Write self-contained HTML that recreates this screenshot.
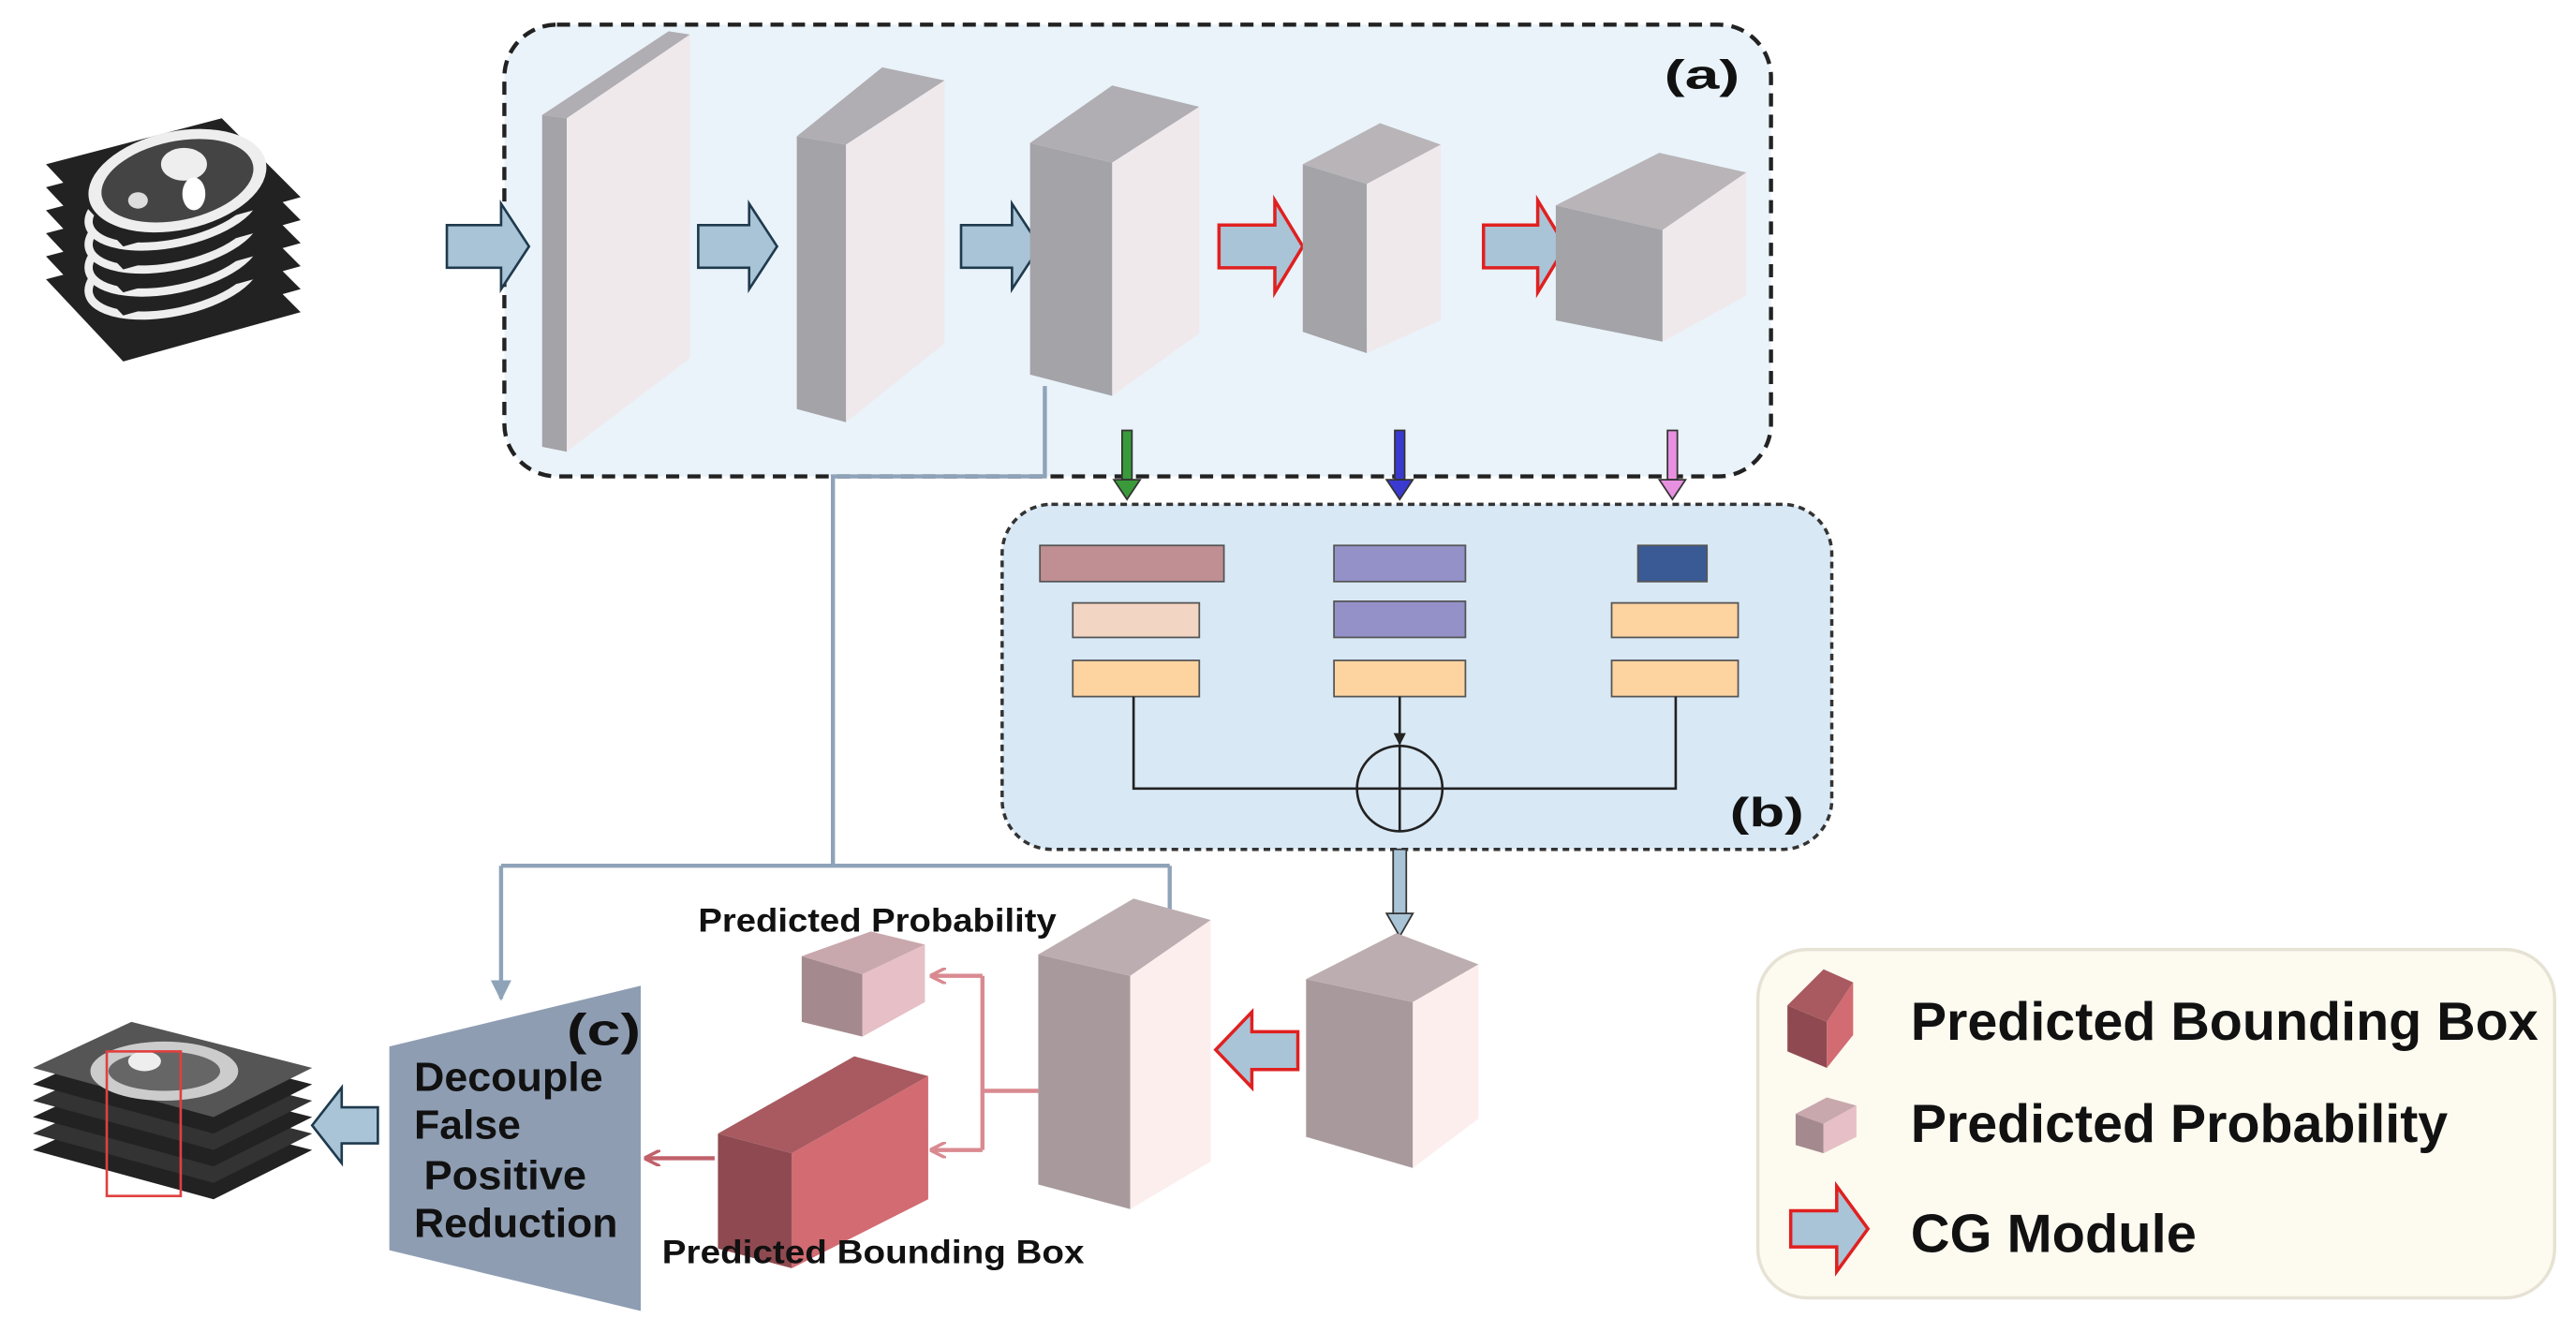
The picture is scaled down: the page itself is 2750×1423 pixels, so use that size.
<!DOCTYPE html>
<html><head><meta charset="utf-8"><style>
html,body{margin:0;padding:0;background:#fff;}
svg{display:block;}
text{font-family:"Liberation Sans",Arial,sans-serif;font-weight:bold;fill:#111;}
</style></head><body>
<svg width="2750" height="1423" viewBox="0 0 1568 811.4" preserveAspectRatio="none" xmlns="http://www.w3.org/2000/svg">
<defs>
<marker id="ag" viewBox="0 0 10 10" refX="9" refY="5" markerWidth="5" markerHeight="5" orient="auto"><path d="M0,0L10,5L0,10z" fill="#8fa3b8"/></marker>
<marker id="ak" viewBox="0 0 10 10" refX="9" refY="5" markerWidth="5" markerHeight="5" orient="auto"><path d="M0,0L10,5L0,10z" fill="#222"/></marker>
<marker id="ap" viewBox="0 0 10 10" refX="9" refY="5" markerWidth="4" markerHeight="4" orient="auto"><path d="M0,0L10,5L0,10" fill="none" stroke="#d98a90" stroke-width="2"/></marker>
<marker id="ar" viewBox="0 0 10 10" refX="9" refY="5" markerWidth="4" markerHeight="4" orient="auto"><path d="M0,0L10,5L0,10" fill="none" stroke="#c0606a" stroke-width="2"/></marker>
</defs>

<rect x="307" y="15" width="771" height="275" rx="32" fill="#eaf3fa" stroke="#222" stroke-width="2.5" stroke-dasharray="8,5"/>
<text x="1013" y="54" font-size="25" textLength="46" lengthAdjust="spacingAndGlyphs">(a)</text>

<g>
<polygon points="28,170 135,142 183,190 75,220" fill="#222"/>
<polygon points="28,156 135,128 183,176 75,206" fill="#222"/><ellipse cx="105" cy="168" rx="52" ry="22" fill="none" stroke="#eee" stroke-width="5" transform="rotate(-12 105 168)"/>
<polygon points="28,142 135,114 183,162 75,192" fill="#222"/><ellipse cx="105" cy="154" rx="52" ry="22" fill="none" stroke="#eee" stroke-width="5" transform="rotate(-12 105 154)"/>
<polygon points="28,128 135,100 183,148 75,178" fill="#222"/><ellipse cx="105" cy="140" rx="52" ry="22" fill="none" stroke="#eee" stroke-width="5" transform="rotate(-12 105 140)"/>
<polygon points="28,114 135,86 183,134 75,164" fill="#222"/><ellipse cx="105" cy="126" rx="52" ry="22" fill="none" stroke="#eee" stroke-width="5" transform="rotate(-12 105 126)"/>
<polygon points="28,100 135,72 183,120 75,150" fill="#222"/>
<ellipse cx="108" cy="110" rx="55" ry="30" fill="#eee" transform="rotate(-12 108 110)"/>
<ellipse cx="108" cy="110" rx="47" ry="24" fill="#444" transform="rotate(-12 108 110)"/>
<ellipse cx="112" cy="100" rx="14" ry="10" fill="#eee"/>
<ellipse cx="118" cy="118" rx="7" ry="10" fill="#fff"/>
<ellipse cx="84" cy="122" rx="6" ry="5" fill="#ddd"/>
</g>

<g stroke="#1f3a4d" stroke-width="1.5" fill="#a9c4d6">
<path d="M272,137H305V124L322,150L305,176V163H272Z"/>
<path d="M425,137H456V124L473,150L456,176V163H425Z"/>
<path d="M585,137H616V124L633,150L616,176V163H585Z"/>
</g>
<g stroke="#e02020" stroke-width="2" fill="#a9c4d6">
<path d="M742,137H776V122L793,150L776,178V163H742Z"/>
<path d="M903,137H936V122L953,150L936,178V163H903Z"/>
</g>

<g>
<polygon points="330,70 345,72 345,275 330,272" fill="#a3a3a8"/>
<polygon points="330,70 407,19 420,21 345,72" fill="#b0aeb3"/>
<polygon points="345,72 420,21 420,218 345,275" fill="#efe9ec"/>

<polygon points="485,83 515,88 515,257 485,249" fill="#a3a3a8"/>
<polygon points="485,83 537,41 575,49 515,88" fill="#b0aeb3"/>
<polygon points="515,88 575,49 575,209 515,257" fill="#efe9ec"/>

<polygon points="627,87 677,99 677,241 627,228" fill="#a3a3a8"/>
<polygon points="627,87 677,52 730,65 677,99" fill="#b0aeb3"/>
<polygon points="677,99 730,65 730,203 677,241" fill="#efe9ec"/>

<polygon points="793,100 832,112 832,215 793,202" fill="#a3a3a8"/>
<polygon points="793,100 840,75 877,88 832,112" fill="#b8b4b8"/>
<polygon points="832,112 877,88 877,195 832,215" fill="#efe9ec"/>

<polygon points="947,125 1012,140 1012,208 947,195" fill="#a3a3a8"/>
<polygon points="947,125 1010,93 1063,105 1012,140" fill="#b8b4b8"/>
<polygon points="1012,140 1063,105 1063,180 1012,208" fill="#efe9ec"/>
</g>

<g stroke="#8fa3b8" stroke-width="2.5" fill="none">
<path d="M636,235V290H507V527"/>
<path d="M305,527H712"/>
<path d="M305,527V608" marker-end="url(#ag)"/>
<path d="M712,527V568" marker-end="url(#ag)"/>
</g>

<g stroke="#333" stroke-width="1">
<rect x="683" y="262" width="6" height="30" fill="#3a9a3a"/><path d="M678,292H694L686,304Z" fill="#3a9a3a"/>
<rect x="849" y="262" width="6" height="30" fill="#3a3ad0"/><path d="M844,292H860L852,304Z" fill="#3a3ad0"/>
<rect x="1015" y="262" width="6" height="30" fill="#e890e0"/><path d="M1010,292H1026L1018,304Z" fill="#e890e0"/>
</g>

<rect x="610" y="307" width="505" height="210" rx="30" fill="#d8e8f5" stroke="#333" stroke-width="2" stroke-dasharray="4,3"/>
<text x="1053" y="503" font-size="25" textLength="45" lengthAdjust="spacingAndGlyphs">(b)</text>
<g stroke="#555" stroke-width="1">
<rect x="633" y="332" width="112" height="22" fill="#bf8f94"/>
<rect x="653" y="367" width="77" height="21" fill="#f2d5c2"/>
<rect x="653" y="402" width="77" height="22" fill="#fdd3a0"/>
<rect x="812" y="332" width="80" height="22" fill="#9391c8"/>
<rect x="812" y="366" width="80" height="22" fill="#9391c8"/>
<rect x="812" y="402" width="80" height="22" fill="#fdd3a0"/>
<rect x="997" y="332" width="42" height="22" fill="#3a5a95"/>
<rect x="981" y="367" width="77" height="21" fill="#fdd3a0"/>
<rect x="981" y="402" width="77" height="22" fill="#fdd3a0"/>
</g>
<g stroke="#222" stroke-width="1.5" fill="none">
<path d="M690,424V480H826"/>
<path d="M1020,424V480H878"/>
<path d="M852,424V453" marker-end="url(#ak)"/>
<circle cx="852" cy="480" r="26" fill="#d8e8f5"/>
<path d="M826,480H878M852,454V506"/>
</g>

<rect x="848" y="517" width="8" height="42" fill="#a9c4d6" stroke="#333" stroke-width="1"/>
<path d="M844,556H860L852,570Z" fill="#a9c4d6" stroke="#333" stroke-width="1"/>

<polygon points="795,596 860,610 860,711 795,692" fill="#a89a9c"/>
<polygon points="795,596 850,568 900,587 860,610" fill="#bcaeb0"/>
<polygon points="860,610 900,587 900,681 860,711" fill="#fdeeee"/>
<polygon points="632,581 688,594 688,736 632,721" fill="#a89a9c"/>
<polygon points="632,581 690,547 737,560 688,594" fill="#bcaeb0"/>
<polygon points="688,594 737,560 737,707 688,736" fill="#fdeeee"/>

<path d="M790,628H762V616L740,639L762,662V651H790Z" fill="#a9c4d6" stroke="#e02020" stroke-width="2"/>

<g stroke="#d98a90" stroke-width="2.5" fill="none">
<path d="M632,664H598"/>
<path d="M598,594V700"/>
<path d="M598,594H567" marker-end="url(#ap)"/>
<path d="M598,700H567" marker-end="url(#ap)"/>
</g>

<polygon points="488,582 525,593 525,631 488,622" fill="#a48a8e"/>
<polygon points="488,582 530,567 563,575 525,593" fill="#c8a8ac"/>
<polygon points="525,593 563,575 563,610 525,631" fill="#e6c0c6"/>
<text x="425" y="567" font-size="20" textLength="218" lengthAdjust="spacingAndGlyphs">Predicted Probability</text>

<polygon points="437,690 482,702 482,772 437,760" fill="#8e4a50"/>
<polygon points="437,690 520,643 565,655 482,702" fill="#a85a60"/>
<polygon points="482,702 565,655 565,730 482,772" fill="#d26b72"/>
<text x="403" y="769" font-size="20" textLength="257" lengthAdjust="spacingAndGlyphs">Predicted Bounding Box</text>
<path d="M435,705H393" stroke="#c0606a" stroke-width="2.5" marker-end="url(#ar)"/>

<polygon points="237,637 390,600 390,798 237,761" fill="#8e9db2"/>
<text x="345" y="636" font-size="27" textLength="45" lengthAdjust="spacingAndGlyphs">(c)</text>
<text x="252" y="664" font-size="25" textLength="115" lengthAdjust="spacingAndGlyphs">Decouple</text>
<text x="252" y="693" font-size="25" textLength="65" lengthAdjust="spacingAndGlyphs">False</text>
<text x="258" y="724" font-size="25" textLength="99" lengthAdjust="spacingAndGlyphs">Positive</text>
<text x="252" y="753" font-size="25" textLength="124" lengthAdjust="spacingAndGlyphs">Reduction</text>

<path d="M230,674H208V662L190,685L208,708V696H230Z" fill="#a9c4d6" stroke="#1f3a4d" stroke-width="1.5"/>

<g>
<polygon points="20,700 80,672 190,700 130,730" fill="#222"/>
<polygon points="20,690 80,662 190,690 130,720" fill="#333"/>
<polygon points="20,680 80,652 190,680 130,710" fill="#222"/>
<polygon points="20,670 80,642 190,670 130,700" fill="#333"/>
<polygon points="20,660 80,632 190,660 130,690" fill="#222"/>
<polygon points="20,650 80,622 190,650 130,680" fill="#555"/>
<ellipse cx="100" cy="652" rx="45" ry="18" fill="#ccc"/>
<ellipse cx="100" cy="652" rx="34" ry="12" fill="#666"/>
<ellipse cx="88" cy="646" rx="10" ry="6" fill="#eee"/>
<rect x="65" y="640" width="45" height="88" fill="none" stroke="#e04040" stroke-width="1.5"/>
</g>

<rect x="1070" y="578" width="485" height="212" rx="30" fill="#fdfaf0" stroke="#e6e2d4" stroke-width="2"/>
<polygon points="1088,612 1112,622 1112,650 1088,640" fill="#8e4a50"/>
<polygon points="1088,612 1110,590 1128,598 1112,622" fill="#a85a60"/>
<polygon points="1112,622 1128,598 1128,630 1112,650" fill="#d26b72"/>
<text x="1163" y="633" font-size="33" textLength="382" lengthAdjust="spacingAndGlyphs">Predicted Bounding Box</text>
<polygon points="1093,678 1110,684 1110,702 1093,697" fill="#a48a8e"/>
<polygon points="1093,678 1112,668 1130,673 1110,684" fill="#c8a8ac"/>
<polygon points="1110,684 1130,673 1130,692 1110,702" fill="#e6c0c6"/>
<text x="1163" y="695" font-size="33" textLength="327" lengthAdjust="spacingAndGlyphs">Predicted Probability</text>
<path d="M1090,737H1118V722L1137,748L1118,774V759H1090Z" fill="#a9c4d6" stroke="#e02020" stroke-width="2"/>
<text x="1163" y="762" font-size="33" textLength="174" lengthAdjust="spacingAndGlyphs">CG Module</text>
</svg>
</body></html>
